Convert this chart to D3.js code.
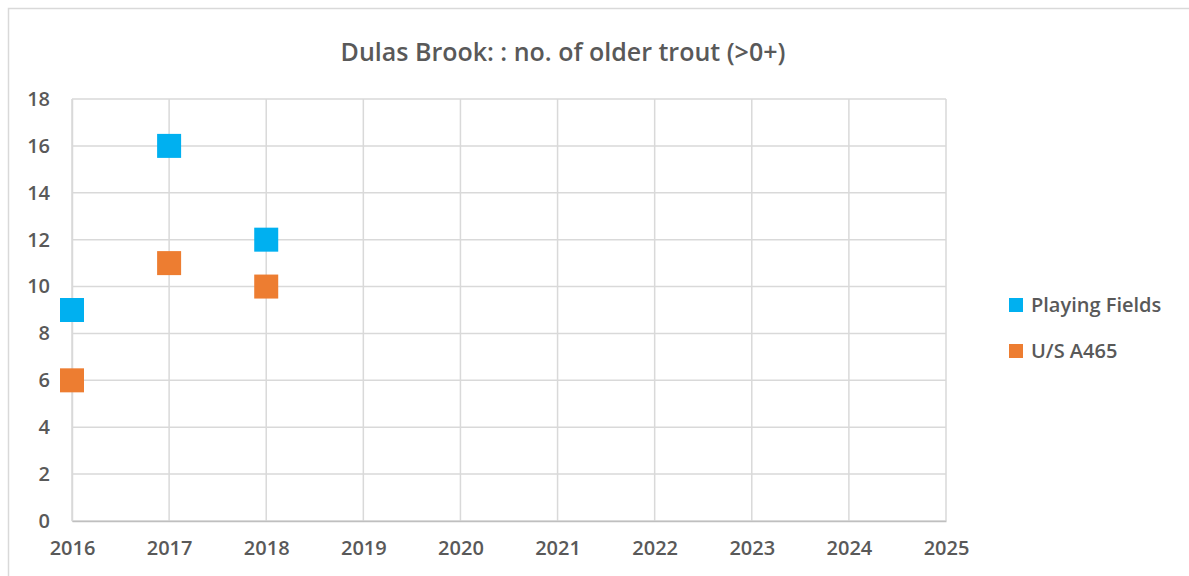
<!DOCTYPE html>
<html>
<head>
<meta charset="utf-8">
<script src="https://cdn.jsdelivr.net/npm/d3@7"></script>
<style>
  body { margin: 0; background: #fff; }
  svg { display: block; font-family: "Open Sans", "Noto Sans", sans-serif; }
</style>
</head>
<body>
<svg id="chart"></svg>
<script>
const years = [2016, 2017, 2018, 2019, 2020, 2021, 2022, 2023, 2024, 2025];
const yTicks = [0, 2, 4, 6, 8, 10, 12, 14, 16, 18];
const seriesNames = ["Playing Fields", "U/S A465"];
const playingFieldsYears = [2016, 2017, 2018];
const playingFields = [9, 16, 12];
const usA465Years = [2016, 2017, 2018];
const usA465 = [6, 11, 10];
const titleText = "Dulas Brook: : no. of older trout (>0+)";

const width = 1189, height = 576;
const margin = { top: 99, right: 243, bottom: 55, left: 72 };
const colors = ["#00B0F0", "#ED7D31"];
const gridColor = "#d9d9d9";
const textColor = "#595959";

const svg = d3.select("#chart").attr("width", width).attr("height", height);

// outer chart border (only top and left are in frame)
svg.append("rect")
   .attr("x", 8.5).attr("y", 8.5)
   .attr("width", width + 20).attr("height", height)
   .attr("fill", "none").attr("stroke", gridColor).attr("stroke-width", 1.5);

const x = d3.scaleLinear()
            .domain([2016, 2025])
            .range([margin.left, width - margin.right]);
const y = d3.scaleLinear()
            .domain([0, 18])
            .range([height - margin.bottom, margin.top]);

// title
svg.append("text")
   .attr("x", 563).attr("y", 61)
   .attr("text-anchor", "middle")
   .attr("fill", textColor)
   .attr("font-size", 25).attr("font-weight", 600)
   .text(titleText);

// gridlines
const grid = svg.append("g");
grid.selectAll("line.h").data(yTicks).join("line")
    .attr("class", "h")
    .attr("x1", x(2016)).attr("x2", x(2025))
    .attr("y1", d => y(d)).attr("y2", d => y(d))
    .attr("stroke", gridColor).attr("stroke-width", 1.5);
grid.selectAll("line.v").data(years).join("line")
    .attr("class", "v")
    .attr("x1", d => x(d)).attr("x2", d => x(d))
    .attr("y1", y(0)).attr("y2", y(18))
    .attr("stroke", gridColor).attr("stroke-width", 1.5);

// axes
const yAxis = svg.append("g")
   .attr("transform", `translate(${margin.left},0)`)
   .call(d3.axisLeft(y).tickValues(yTicks).tickSize(0).tickPadding(22));
const xAxis = svg.append("g")
   .attr("transform", `translate(0,${y(0)})`)
   .call(d3.axisBottom(x).tickValues(years).tickFormat(d3.format("d")).tickSize(0).tickPadding(20));
[yAxis, xAxis].forEach(g => {
  g.select(".domain").attr("stroke", gridColor).attr("stroke-width", 1.5);
  g.selectAll("text").attr("fill", textColor).attr("font-size", 20).attr("font-weight", 600)
   .attr("font-family", "'Open Sans', sans-serif");
});
xAxis.select(".domain").attr("stroke", "#bfbfbf");

// points
const series = [
  { name: seriesNames[0], xs: playingFieldsYears, vals: playingFields },
  { name: seriesNames[1], xs: usA465Years, vals: usA465 }
];
const size = 24;
series.forEach((s, si) => {
  svg.append("g").selectAll("rect").data(s.vals).join("rect")
     .attr("x", (d, i) => x(s.xs[i]) - size / 2)
     .attr("y", d => y(d) - size / 2)
     .attr("width", size).attr("height", size)
     .attr("fill", colors[si]);
});

// legend
const legend = svg.append("g").attr("transform", "translate(1009,298)");
seriesNames.forEach((name, i) => {
  const g = legend.append("g").attr("transform", `translate(0,${i * 46})`);
  g.append("rect").attr("width", 14).attr("height", 14).attr("fill", colors[i]);
  g.append("text").attr("x", 22).attr("y", 7).attr("dy", "0.35em")
   .attr("fill", textColor).attr("font-size", 20).attr("font-weight", 600)
   .text(name);
});
</script>
</body>
</html>
